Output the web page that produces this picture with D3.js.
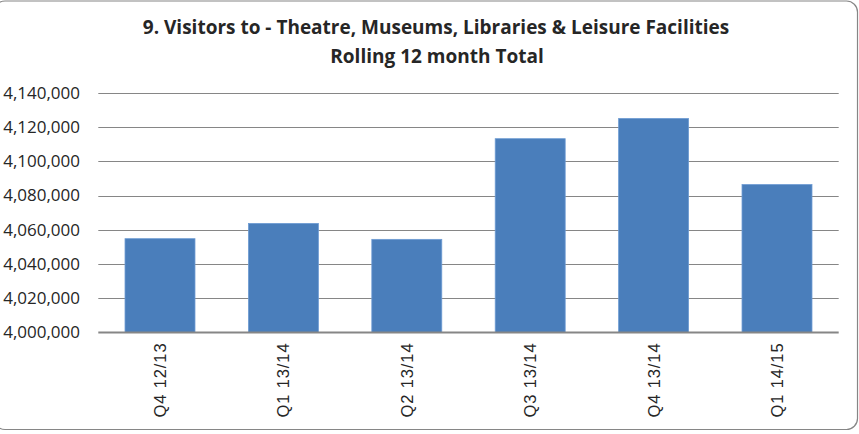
<!DOCTYPE html>
<html>
<head>
<meta charset="utf-8">
<script src="https://cdn.jsdelivr.net/npm/d3@7"></script>
<style>
  html, body { margin: 0; padding: 0; background: #fff; }
  svg { display: block; }
</style>
</head>
<body>
<div id="chart"></div>
<script>
// chart data
const categories = ['Q4 12/13', 'Q1 13/14', 'Q2 13/14', 'Q3 13/14', 'Q4 13/14', 'Q1 14/15'];
const visitors = [4054800, 4063700, 4054400, 4113200, 4125000, 4086400];
const yTicks = [4000000, 4020000, 4040000, 4060000, 4080000, 4100000, 4120000, 4140000];
const titleLines = ['9. Visitors to - Theatre, Museums, Libraries & Leisure Facilities', 'Rolling 12 month Total'];

const width = 859, height = 434;
const margin = { top: 92.8, right: 20.3, bottom: 101.5, left: 98.3 };

const svg = d3.select('#chart').append('svg')
  .attr('width', width)
  .attr('height', height);

// outer frame (left side sits just off the canvas, as in the original)
svg.append('rect')
  .attr('x', -6).attr('y', 1)
  .attr('width', 863.5).attr('height', 428.5)
  .attr('rx', 11).attr('ry', 11)
  .attr('fill', '#fff')
  .attr('stroke', '#868686')
  .attr('stroke-width', 1.2);

// title
const title = svg.append('text')
  .attr('text-anchor', 'middle')
  .attr('font-family', '"Open Sans", sans-serif')
  .attr('font-weight', 'bold')
  .attr('font-size', 19)
  .attr('fill', '#262626');
title.append('tspan').attr('x', 436).attr('y', 34).text(titleLines[0]);
title.append('tspan').attr('x', 437).attr('y', 63).text(titleLines[1]);

const x = d3.scaleBand()
  .domain(categories)
  .range([margin.left, width - margin.right])
  .paddingInner(0.433)
  .paddingOuter(0.2165);

const y = d3.scaleLinear()
  .domain([4000000, 4140000])
  .range([height - margin.bottom, margin.top]);

// gridlines
svg.append('g')
  .selectAll('line')
  .data(yTicks.slice(1))
  .enter().append('line')
  .attr('x1', margin.left).attr('x2', width - margin.right)
  .attr('y1', d => Math.round(y(d)) + 0.5)
  .attr('y2', d => Math.round(y(d)) + 0.5)
  .attr('stroke', '#868686')
  .attr('stroke-width', 1);

// y axis labels
const fmt = d3.format(',');
svg.append('g')
  .selectAll('text')
  .data(yTicks)
  .enter().append('text')
  .attr('x', 80)
  .attr('y', d => y(d))
  .attr('dy', '0.35em')
  .attr('text-anchor', 'end')
  .attr('font-family', '"Open Sans", sans-serif')
  .attr('font-size', 17)
  .attr('fill', '#262626')
  .text(d => fmt(d));

// bars
svg.append('g')
  .selectAll('rect')
  .data(visitors)
  .enter().append('rect')
  .attr('x', (d, i) => x(categories[i]))
  .attr('y', d => y(d))
  .attr('width', x.bandwidth())
  .attr('height', d => y(4000000) - y(d))
  .attr('fill', '#4a7ebb')
  .attr('stroke', '#6d9bd3')
  .attr('stroke-width', 0.8);

// baseline
svg.append('line')
  .attr('x1', margin.left).attr('x2', width - margin.right)
  .attr('y1', y(4000000)).attr('y2', y(4000000))
  .attr('stroke', '#868686')
  .attr('stroke-width', 2);

// rotated category labels
svg.append('g')
  .selectAll('text')
  .data(categories)
  .enter().append('text')
  .attr('transform', d => `translate(${x(d) + x.bandwidth() / 2 + 6},${y(4000000) + 10}) rotate(-90)`)
  .attr('text-anchor', 'end')
  .attr('font-family', '"Liberation Sans", Arial, sans-serif')
  .attr('font-size', 16.5)
  .attr('letter-spacing', 0.9)
  .attr('fill', '#262626')
  .text(d => d);
</script>
</body>
</html>
